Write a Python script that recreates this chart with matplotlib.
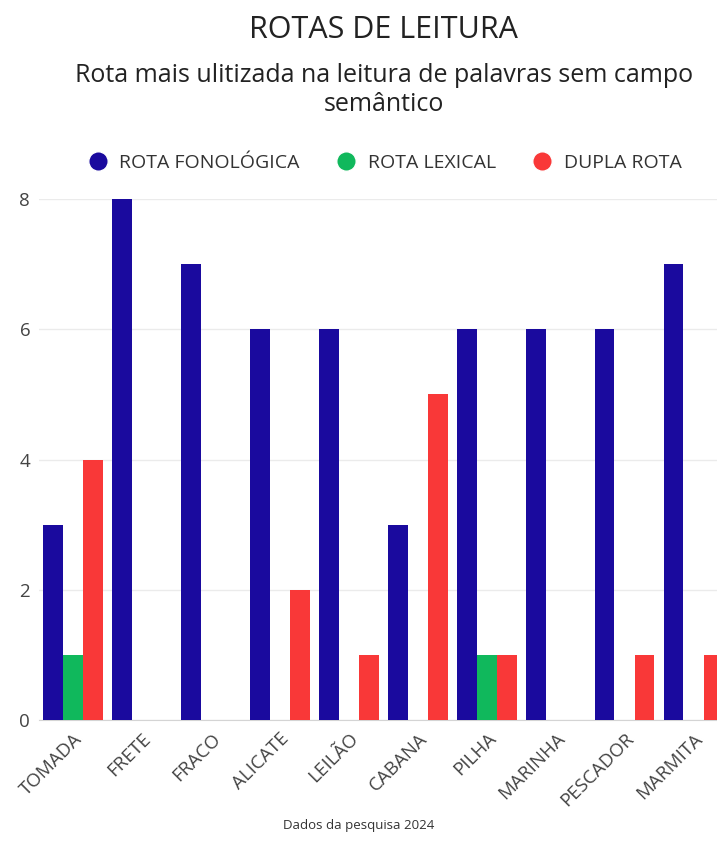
import matplotlib.pyplot as plt
import numpy as np
from matplotlib.lines import Line2D

plt.rcParams['font.family'] = ['Open Sans', 'DejaVu Sans']

palavras = ["TOMADA", "FRETE", "FRACO", "ALICATE", "LEILÃO",
            "CABANA", "PILHA", "MARINHA", "PESCADOR", "MARMITA"]
rota_fonologica = [3, 8, 7, 6, 6, 3, 6, 6, 6, 7]
rota_lexical = [1, 0, 0, 0, 0, 0, 1, 0, 0, 0]
dupla_rota = [4, 0, 0, 2, 1, 5, 1, 0, 1, 1]

series = [
    ("ROTA FONOLÓGICA", rota_fonologica, "#1a0a9e"),
    ("ROTA LEXICAL", rota_lexical, "#10b85c"),
    ("DUPLA ROTA", dupla_rota, "#f93838"),
]

fig = plt.figure(figsize=(7.17, 8.63), dpi=100)
ax = fig.add_axes([0.0537, 0.1657, 0.962, 0.6037])

x = np.arange(len(palavras))
w = 0.29
for i, (nome, vals, cor) in enumerate(series):
    ax.bar(x + (i - 1) * w, vals, width=w * 0.97, color=cor, zorder=3)

ax.set_xlim(-0.5, len(palavras) - 0.5)
ax.set_ylim(0, 8)
ax.set_yticks([0, 2, 4, 6, 8])
ax.yaxis.grid(True, color="#ebebeb", linewidth=1, zorder=0)
for s in ["top", "right", "left"]:
    ax.spines[s].set_visible(False)
ax.spines["bottom"].set_color("#d4d4d4")
ax.tick_params(axis="y", length=0, pad=6, labelsize=13.5, labelcolor="#444444")
ax.tick_params(axis="x", length=0, pad=7, labelsize=13.5, labelcolor="#444444")
ax.set_xticks(x)
ax.set_xticklabels(palavras, rotation=45, ha="right", rotation_mode="anchor")

fig.text(0.535, 0.965, "ROTAS DE LEITURA", ha="center", va="center",
         fontsize=22, color="#222222")
fig.text(0.535, 0.896, "Rota mais ulitizada na leitura de palavras sem campo\nsemântico",
         ha="center", va="center", fontsize=18, color="#222222", linespacing=1.2)

handles = [Line2D([0], [0], marker="o", color="w", markerfacecolor=c,
                  markersize=14, linestyle="None", label=n) for n, _, c in series]
fig.legend(handles=handles, loc="center", bbox_to_anchor=(0.53, 0.811), ncol=3,
           frameon=False, fontsize=14, handletextpad=0.1, columnspacing=1.4,
           labelcolor="#333333")

fig.text(0.5, 0.043, "Dados da pesquisa 2024", ha="center", va="center",
         fontsize=9.5, color="#333333")

fig.savefig("out.png", dpi=100)
